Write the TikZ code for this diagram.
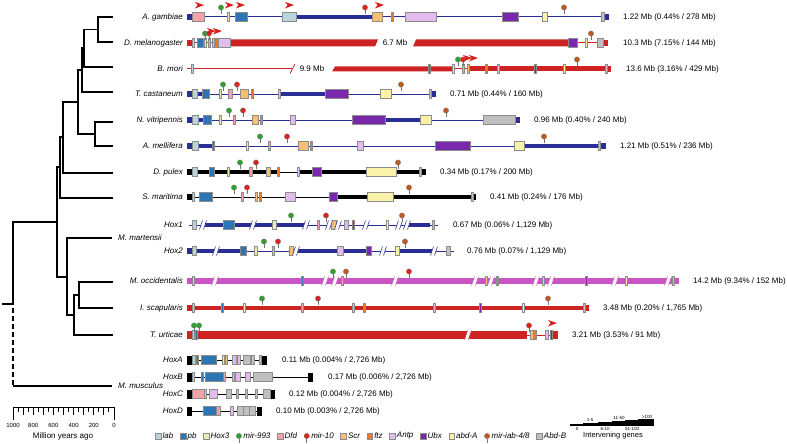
\documentclass[tikz,border=0pt]{standalone}
\usepackage{fontspec}
\setmainfont{Liberation Sans}
\usepackage{xcolor}
\usepackage{tikz}
\usetikzlibrary{positioning}

\definecolor{trkblue}{RGB}{43,45,150}
\definecolor{trkred}{RGB}{205,35,35}
\definecolor{trkmag}{RGB}{200,85,195}
\definecolor{clab}{RGB}{185,212,220}
\definecolor{cpb}{RGB}{45,118,180}
\definecolor{choxt}{RGB}{228,240,175}
\definecolor{cmnn}{RGB}{45,160,45}
\definecolor{cdfd}{RGB}{242,162,168}
\definecolor{cmten}{RGB}{222,35,30}
\definecolor{cscr}{RGB}{246,192,112}
\definecolor{cftz}{RGB}{232,122,40}
\definecolor{cantp}{RGB}{226,188,236}
\definecolor{cubx}{RGB}{120,40,170}
\definecolor{cabda}{RGB}{250,242,168}
\definecolor{ciab}{RGB}{192,88,32}
\definecolor{cabdb}{RGB}{192,192,192}
\definecolor{cflag}{RGB}{215,30,30}

% gene models: box, thin gene, track end, microRNA, start flag, gap
\newcommand{\genebox}[4]{\draw[genebox,fill=#4] (#1,#3-4.5) rectangle (#2,#3+4.5);}
\newcommand{\genetick}[3]{\draw[genebox,fill=#3] (#1-0.9,#2-4.5) rectangle (#1+0.9,#2+4.5);}
\newcommand{\trackend}[4]{\fill[#4] (#1,#3-3) rectangle (#2,#3+3);}
\newcommand{\mirpin}[3]{\draw[genestem] (#1,#2-3) -- (#1,#2-7.5);
  \filldraw[genehead,fill=#3] (#1,#2-9.5) circle (2.7);}
\newcommand{\hoxflag}[2]{\fill[cflag] (#1,#2) -- (#1+9,#2+3) -- (#1,#2+6.5) -- (#1+2.5,#2+3) -- cycle;}
\newcommand{\gapmark}[3]{%
  \fill[white] (#1-3.5,#2+4.5) -- (#1-0.5,#2-4.5) -- (#1+3.5,#2-4.5) -- (#1+0.5,#2+4.5) -- cycle;
  \draw[#3,line width=0.5pt] (#1-3.5,#2+4.5) -- (#1-0.5,#2-4.5) (#1+0.5,#2+4.5) -- (#1+3.5,#2-4.5);}

\begin{document}
\begin{tikzpicture}[x=1pt,y=-1pt,
  treeline/.style={line width=1.4pt,black},
  trk/.style={line width=1pt},
  trkwide/.style={line width=3.5pt},
  genebox/.style={draw=black!45,line width=0.35pt},
  genestem/.style={draw=black!55,line width=0.5pt},
  genehead/.style={draw=black!50,line width=0.3pt},
  splbl/.style={font=\fontsize{8}{9}\selectfont\itshape,inner sep=0pt,anchor=east},
  mblbl/.style={font=\fontsize{8}{9}\selectfont,inner sep=0pt,anchor=west},
  legkey/.style={draw=black!45,line width=0.35pt,minimum size=5.5pt,inner sep=0pt},
  legdot/.style={draw=black!50,line width=0.3pt,circle,minimum size=5.4pt,inner sep=0pt},
  legtxt/.style={font=\fontsize{8}{9}\selectfont\itshape,inner sep=0pt},
  tinylbl/.style={font=\fontsize{4.5}{5}\selectfont,inner sep=0pt}]
  \useasboundingbox (0,0) rectangle (787,444);

  % Tree leaves and branch points
  \coordinate (ag) at (113,17);
  \coordinate (dm) at (113,42);
  \coordinate (bm) at (113,67);
  \coordinate (tc) at (113,92);
  \coordinate (nv) at (113,122);
  \coordinate (am) at (113,146);
  \coordinate (dp) at (113,173);
  \coordinate (sm) at (113,198);
  \coordinate (mm) at (112,238);
  \coordinate (mo) at (113,282);
  \coordinate (is) at (113,308);
  \coordinate (tu) at (113,335);
  \coordinate (mu) at (112,386);
  \coordinate (n1) at (98,29.5);
  \coordinate (n2) at (84,48);
  \coordinate (n3) at (82,70);
  \coordinate (n4) at (95,134);
  \coordinate (n5) at (78,102);
  \coordinate (n6) at (63,137);
  \coordinate (n7) at (60,167);
  \coordinate (n8) at (57,222);
  \coordinate (c1) at (67,277);
  \coordinate (c2) at (74,315);
  \coordinate (c3) at (79,295);
  \coordinate (root) at (13,304);
  \draw[treeline] (ag) -| (n1) |- (dm);
  \draw[treeline] (n1) -| (n2) |- (bm);
  \draw[treeline] (n2) -| (n3) |- (tc);
  \draw[treeline] (nv) -| (n4) |- (am);
  \draw[treeline] (n3) -| (n5) |- (n4);
  \draw[treeline] (n5) -| (n6) |- (dp);
  \draw[treeline] (n6) -| (n7) |- (sm);
  \draw[treeline] (n7) -| (n8) |- (c1);
  \draw[treeline] (mo) -| (c3) |- (is);
  \draw[treeline] (c3) -| (c2) |- (tu);
  \draw[treeline] (mm) -| (c1) |- (c2);
  \draw[treeline] (n8) -| (root) -- ++(-11,0);
  \draw[treeline,dash pattern=on 5pt off 3pt] (root) ++(0,4) -- (root |- mu);
  \draw[treeline] (root |- mu) -- (mu);

  % Species labels
  \foreach \nm/\yy/\txt in {ag/17/A. gambiae,dm/43/D. melanogaster,bm/69/B. mori,
      tc/94/T. castaneum,nv/120/N. vitripennis,am/146/A. mellifera,dp/172/D. pulex,
      sm/197/S. maritima,hoxa/225/Hox1,hoxb/251/Hox2,mo/281/M. occidentalis,
      is/308/I. scapularis,tu/335/T. urticae,mha/360/HoxA,mhb/377/HoxB,mhc/394/HoxC,mhd/411/HoxD}
    {\node[splbl] (sp-\nm) at (183,\yy) {\txt};}
  \node[splbl,anchor=west] (sp-mm) at (118,238) {M. martensii};
  \node[splbl,anchor=west] (sp-mu) at (118,386) {M. musculus};

  % Cluster sizes
  \foreach \nm/\xx/\yy/\txt in {ag/623/17/{1.22 Mb (0.44\% / 278 Mb)},
      dm/623/43/{10.3 Mb (7.15\% / 144 Mb)},bm/626/69/{13.6 Mb (3.16\% / 429 Mb)},
      tc/450/94/{0.71 Mb (0.44\% / 160 Mb)},nv/534/120/{0.96 Mb (0.40\% / 240 Mb)},
      am/620/146/{1.21 Mb (0.51\% / 236 Mb)},dp/440/172/{0.34 Mb (0.17\% / 200 Mb)},
      sm/490/197/{0.41 Mb (0.24\% / 176 Mb)},hoxa/453/225/{0.67 Mb (0.06\% / 1,129 Mb)},
      hoxb/467/251/{0.76 Mb (0.07\% / 1,129 Mb)},mo/693/281/{14.2 Mb (9.34\% / 152 Mb)},
      is/603/308/{3.48 Mb (0.20\% / 1,765 Mb)},tu/572/335/{3.21 Mb (3.53\% / 91 Mb)},
      mha/282/360/{0.11 Mb (0.004\% / 2,726 Mb)},mhb/328/377/{0.17 Mb (0.006\% / 2,726 Mb)},
      mhc/289/394/{0.12 Mb (0.004\% / 2,726 Mb)},mhd/276/411/{0.10 Mb (0.003\% / 2,726 Mb)}}
    {\node[mblbl] (mb-\nm) at (\xx,\yy) {\txt};}

  % A. gambiae
  \draw[trk,trkblue] (187,17) -- (609,17);
  \draw[trkwide,trkblue] (296,17) -- (372,17);
  \trackend{187}{192}{17}{trkblue} \trackend{604}{609}{17}{trkblue}
  \foreach \a/\b/\c in {192/204/cdfd,235/247/cpb,282/296/clab,372/382/cscr,405/436/cantp,
      502/518/cubx,542/547/cabda,601/604/cabdb} {\genebox{\a}{\b}{17}{\c}}
  \foreach \a/\c in {228/choxt,392/cftz} {\genetick{\a}{17}{\c}}
  \foreach \a/\c in {221/cmnn,365/cmten,564/ciab} {\mirpin{\a}{17}{\c}}
  \foreach \a in {195,225,236,285,375} {\hoxflag{\a}{2}}

  % D. melanogaster
  \draw[trk,trkred] (187,43) -- (230,43) (568,43) -- (608,43);
  \fill[trkred] (230,39.5) -- (378,39.5) -- (375,46.5) -- (230,46.5) -- cycle;
  \fill[trkred] (416,39.5) -- (568,39.5) -- (568,46.5) -- (413,46.5) -- cycle;
  \node[mblbl,anchor=center] (gap-dm) at (395,43) {6.7 Mb};
  \trackend{187}{192}{43}{trkred} \trackend{603}{608}{43}{trkred}
  \foreach \a/\b/\c in {197/203/cpb,218/230/cantp,568/577/cubx,597/603/cabdb} {\genebox{\a}{\b}{43}{\c}}
  \foreach \a/\c in {193/clab,205/choxt,209/cdfd,213/cscr,216/cftz,586/cabda} {\genetick{\a}{43}{\c}}
  \foreach \a/\c in {205/cmnn,209/cmten,591/ciab} {\mirpin{\a}{43}{\c}}
  \foreach \a in {207,213} {\hoxflag{\a}{28}}

  % B. mori
  \draw[trk,trkred] (187,69) -- (292,69);
  \draw[trkred,line width=0.8pt] (290,73.5) -- (295,64);
  \node[mblbl,anchor=center] (gap-bm) at (312,69) {9.9 Mb};
  \fill[trkred] (335,66.5) -- (453,66.5) -- (453,71.5) -- (332,71.5) -- cycle;
  \draw[trk,trkred] (453,69) -- (470,69);
  \fill[trkred] (470,66.5) rectangle (607,71.5);
  \trackend{607}{611}{69}{trkred}
  \foreach \a/\c in {192/clab,429/cpb,453/choxt,463/cdfd,468/cscr,486/cftz,498/cantp,
      535/cubx,564/cabda,606/cabdb} {\genetick{\a}{69}{\c}}
  \foreach \a/\c in {458/cmnn,463/cmten,577/ciab} {\mirpin{\a}{69}{\c}}
  \foreach \a in {463,469} {\hoxflag{\a}{55}}

  % T. castaneum
  \draw[trk,trkblue] (187,94) -- (436,94);
  \draw[trkwide,trkblue] (192,94) -- (209,94) (280,94) -- (325,94);
  \trackend{187}{192}{94}{trkblue} \trackend{432}{436}{94}{trkblue}
  \foreach \a/\b/\c in {192/197/clab,202/209/cpb,228/232/cdfd,240/248/cscr,325/348/cubx,
      380/391/cabda} {\genebox{\a}{\b}{94}{\c}}
  \foreach \a/\c in {220/choxt,252/cftz,279/cantp,430/cabdb} {\genetick{\a}{94}{\c}}
  \foreach \a/\c in {223/cmnn,237/cmten,401/ciab} {\mirpin{\a}{94}{\c}}

  % N. vitripennis
  \draw[trk,trkblue] (187,120) -- (520,120);
  \draw[trkwide,trkblue] (192,120) -- (211,120) (385,120) -- (420,120);
  \trackend{187}{192}{120}{trkblue} \trackend{515}{520}{120}{trkblue}
  \foreach \a/\b/\c in {192/198/clab,203/211/cpb,252/258/cscr,290/295/cantp,352/385/cubx,
      420/431/cabda,483/515/cabdb} {\genebox{\a}{\b}{120}{\c}}
  \foreach \a/\c in {220/choxt,234/cdfd,261/cftz} {\genetick{\a}{120}{\c}}
  \foreach \a/\c in {229/cmnn,243/cmten,446/ciab} {\mirpin{\a}{120}{\c}}

  % A. mellifera
  \draw[trk,trkblue] (187,146) -- (606,146);
  \draw[trkwide,trkblue] (192,146) -- (213,146) (524,146) -- (600,146);
  \trackend{187}{192}{146}{trkblue} \trackend{601}{606}{146}{trkblue}
  \foreach \a/\b/\c in {192/198/clab,298/308/cscr,357/363/cantp,435/470/cubx,
      514/524/cabda} {\genebox{\a}{\b}{146}{\c}}
  \foreach \a/\c in {213/cpb,247/choxt,269/cdfd,311/cftz,599/cabdb} {\genetick{\a}{146}{\c}}
  \foreach \a/\c in {260/cmnn,287/cmten,544/ciab} {\mirpin{\a}{146}{\c}}

  % D. pulex
  \draw[trk,black] (187,172) -- (426,172);
  \draw[trkwide,black,line width=4.3pt] (192,172) -- (280,172) (298,172) -- (421,172);
  \trackend{187}{192}{172}{black} \trackend{421}{426}{172}{black}
  \foreach \a/\b/\c in {192/197/clab,209/214/cpb,249/252/cdfd,266/270/cscr,312/321/cubx,
      366/396/cabda} {\genebox{\a}{\b}{172}{\c}}
  \foreach \a/\c in {228/choxt,278/cftz,298/cantp,420/cabdb} {\genetick{\a}{172}{\c}}
  \foreach \a/\c in {240/cmnn,256/cmten,398/ciab} {\mirpin{\a}{172}{\c}}

  % S. maritima
  \draw[trk,black] (187,197) -- (476,197);
  \draw[trkwide,black,line width=4.3pt] (337,197) -- (472,197);
  \trackend{187}{192}{197}{black} \trackend{472}{476}{197}{black}
  \foreach \a/\b/\c in {199/212/cpb,285/295/cantp,329/337/cubx,367/393/cabda} {\genebox{\a}{\b}{197}{\c}}
  \foreach \a/\c in {193/clab,242/cdfd,256/cscr,260/cftz,472/cabdb} {\genetick{\a}{197}{\c}}
  \foreach \a/\c in {234/cmnn,247/cmten,409/ciab} {\mirpin{\a}{197}{\c}}

  % M. martensii Hox1
  \draw[trk,trkblue] (189,225) -- (438,225);
  \draw[trkwide,trkblue] (205,225) -- (305,225) (408,225) -- (430,225);
  \foreach \a/\b/\c in {192/196/clab,223/234/cpb,272/276/choxt,331/336/cscr,
      344/348/cantp} {\genebox{\a}{\b}{225}{\c}}
  \foreach \a/\c in {318/cdfd,353/cubx,387/cabda,433/cabdb} {\genetick{\a}{225}{\c}}
  \foreach \a in {203,253,306,329,338,366,399,407} {\gapmark{\a}{225}{trkblue}}
  \foreach \a/\c in {291/cmnn,326/cmten,402/ciab} {\mirpin{\a}{225}{\c}}

  % M. martensii Hox2
  \draw[trk,trkblue] (187,251) -- (454,251);
  \draw[trkwide,trkblue] (192,251) -- (240,251) (298,251) -- (366,251) (399,251) -- (432,251);
  \trackend{187}{192}{251}{trkblue}
  \foreach \a/\b/\c in {192/196/clab,240/246/cpb,254/257/choxt,289/293/cscr,337/343/cantp,
      366/371/cubx,395/399/cabda,446/450/cabdb} {\genebox{\a}{\b}{251}{\c}}
  \genetick{273}{251}{cdfd}
  \foreach \a in {216,296,383,434} {\gapmark{\a}{251}{trkblue}}
  \foreach \a/\c in {264/cmnn,278/cmten,405/ciab} {\mirpin{\a}{251}{\c}}

  % M. occidentalis
  \fill[trkmag] (187,278) rectangle (679,284);
  \foreach \a/\c in {193/clab,302/cpb,342/cdfd,486/cscr,497/cftz,543/cantp,586/cubx,
      626/cabda,673/cabdb} {\genetick{\a}{281}{\c}}
  \foreach \a in {215,325,335,395,475,491,536,551,615,668} {\gapmark{\a}{281}{trkmag}}
  \foreach \a/\c in {333/cmnn,346/ciab,409/cmten} {\mirpin{\a}{281}{\c}}

  % I. scapularis
  \fill[trkred] (187,306.3) rectangle (589,309.7);
  \trackend{187}{192}{308}{trkred} \trackend{584}{589}{308}{trkred}
  \foreach \a/\c in {193/clab,222/cpb,244/choxt,302/cdfd,353/cscr,364/cftz,434/cantp,
      480/cubx,523/cabda,584/cabdb} {\genetick{\a}{308}{\c}}
  \foreach \a/\c in {262/cmnn,318/cmten,548/ciab} {\mirpin{\a}{308}{\c}}

  % T. urticae
  \fill[trkred] (187,331) rectangle (527,339);
  \gapmark{468}{335}{trkred}
  \draw[trk,trkred] (527,335) -- (558,335);
  \fill[trkred] (553,331) rectangle (558,339);
  \foreach \a/\b/\c in {530/533/cscr,533/536/cftz,545/548/cantp} {\genebox{\a}{\b}{335}{\c}}
  \foreach \a/\c in {193/clab,196/cpb,551/cubx} {\genetick{\a}{335}{\c}}
  \foreach \a/\c in {194/cmnn,199/cmnn,529/cmten} {\mirpin{\a}{335}{\c}}
  \hoxflag{548}{320}

  % M. musculus HoxA-D
  \draw[trk,black] (187,360) -- (267,360) (187,377) -- (313,377) (187,394) -- (275,394)
    (187,411) -- (262,411);
  \foreach \a/\b/\y in {187/192/360,262/267/360,187/192/377,308/313/377,187/192/394,
      270/275/394,187/192/411,257/262/411} {\fill[black] (\a,\y-4.5) rectangle (\b,\y+4.5);}
  \foreach \a/\b/\c in {192/195/clab,201/216/cpb,232/236/cantp,237/240/cantp,243/250/cabdb,
      251/254/cabdb} {\genebox{\a}{\b}{360}{\c}}
  \foreach \a/\c in {197/cpb,223/choxt,226/cscr,260/cabdb} {\genetick{\a}{360}{\c}}
  \foreach \a/\b/\c in {192/194.5/clab,205/223/cpb,223/225.5/cdfd,235/240/cantp,245/250/cantp,
      253/272/cabdb} {\genebox{\a}{\b}{377}{\c}}
  \foreach \a/\c in {202/cpb,233.5/cscr} {\genetick{\a}{377}{\c}}
  \foreach \a/\b/\c in {192/204/cdfd,209/217/cantp,226/231/cabdb,236/238.5/cabdb,
      263/270/cabdb} {\genebox{\a}{\b}{394}{\c}}
  \foreach \a/\c in {205/cscr,246/cabdb,256/cabdb} {\genetick{\a}{394}{\c}}
  \foreach \a/\b/\c in {203/216/cpb,216/220/cdfd,230/233/cantp,237/243/cabdb,243/249/cabdb,
      249/255/cabdb} {\genebox{\a}{\b}{411}{\c}}

  % Time scale
  \draw[line width=1pt] (13,407) -- (114,407);
  \foreach \t in {0,50,...,1000}
    {\draw[line width=1pt] ({114-0.101*\t},407) -- ++(0,{ifthenelse(mod(\t,100)==0,8,5)});}
  \draw[line width=1pt] (13,407) -- ++(0,13) (114,407) -- ++(0,13);
  \foreach \t in {0,200,400,600,800,1000}
    {\node[inner sep=0pt,font=\fontsize{6}{7}\selectfont] (my\t) at ({114-0.101*\t},425) {\t};}
  \node[mblbl,anchor=center] (myr) at (63,436) {Million years ago};

  % Legend
  \node[legkey,fill=clab] (k-lab) at (158,436) {};
  \node[legtxt,right=1.5pt of k-lab] (t-lab) {lab};
  \node[legkey,fill=cpb,right=6.5pt of t-lab] (k-pb) {};
  \node[legtxt,right=1.5pt of k-pb] (t-pb) {pb};
  \node[legkey,fill=choxt,right=6.5pt of t-pb] (k-hoxt) {};
  \node[legtxt,right=1.5pt of k-hoxt] (t-hoxt) {Hox3};
  \node[legdot,fill=cmnn,right=6.5pt of t-hoxt] (k-mnn) {};
  \node[legtxt,right=1.5pt of k-mnn] (t-mnn) {mir-993};
  \node[legkey,fill=cdfd,right=6.5pt of t-mnn] (k-dfd) {};
  \node[legtxt,right=1.5pt of k-dfd] (t-dfd) {Dfd};
  \node[legdot,fill=cmten,right=6.5pt of t-dfd] (k-mten) {};
  \node[legtxt,right=1.5pt of k-mten] (t-mten) {mir-10};
  \node[legkey,fill=cscr,right=6.5pt of t-mten] (k-scr) {};
  \node[legtxt,right=1.5pt of k-scr] (t-scr) {Scr};
  \node[legkey,fill=cftz,right=6.5pt of t-scr] (k-ftz) {};
  \node[legtxt,right=1.5pt of k-ftz] (t-ftz) {ftz};
  \node[legkey,fill=cantp,right=6.5pt of t-ftz] (k-antp) {};
  \node[legtxt,right=1.5pt of k-antp] (t-antp) {Antp};
  \node[legkey,fill=cubx,right=6.5pt of t-antp] (k-ubx) {};
  \node[legtxt,right=1.5pt of k-ubx] (t-ubx) {Ubx};
  \node[legkey,fill=cabda,right=6.5pt of t-ubx] (k-abda) {};
  \node[legtxt,right=1.5pt of k-abda] (t-abda) {abd-A};
  \node[legdot,fill=ciab,right=6.5pt of t-abda] (k-iab) {};
  \node[legtxt,right=1.5pt of k-iab] (t-iab) {mir-iab-4/8};
  \node[legkey,fill=cabdb,right=6.5pt of t-iab] (k-abdb) {};
  \node[legtxt,right=1.5pt of k-abdb] (t-abdb) {Abd-B};
  \foreach \k in {k-mnn,k-mten,k-iab} {\draw[genestem] (\k.south) -- ++(0,4);}

  % Intervening genes key
  \foreach \a/\b/\h in {570/583/1.3,583/598/3,598/612/3.6,612/625/4.8,625/638/5.4,638/654/6.7}
    {\fill[black] (\a,425.5) rectangle (\b,425.5-\h);}
  \foreach \i/\xx/\t/\yy in {0/577/0/429,1/590/1-5/420,2/605/6-10/429,3/619/11-50/418,
      4/632/51-100/429,5/647/>100/416.5}
    {\node[tinylbl] (ig\i) at (\xx,\yy) {\t};}
  \node[font=\fontsize{7.5}{8}\selectfont,inner sep=0pt] (igtxt) at (613,436) {Intervening genes};
\end{tikzpicture}
\end{document}
